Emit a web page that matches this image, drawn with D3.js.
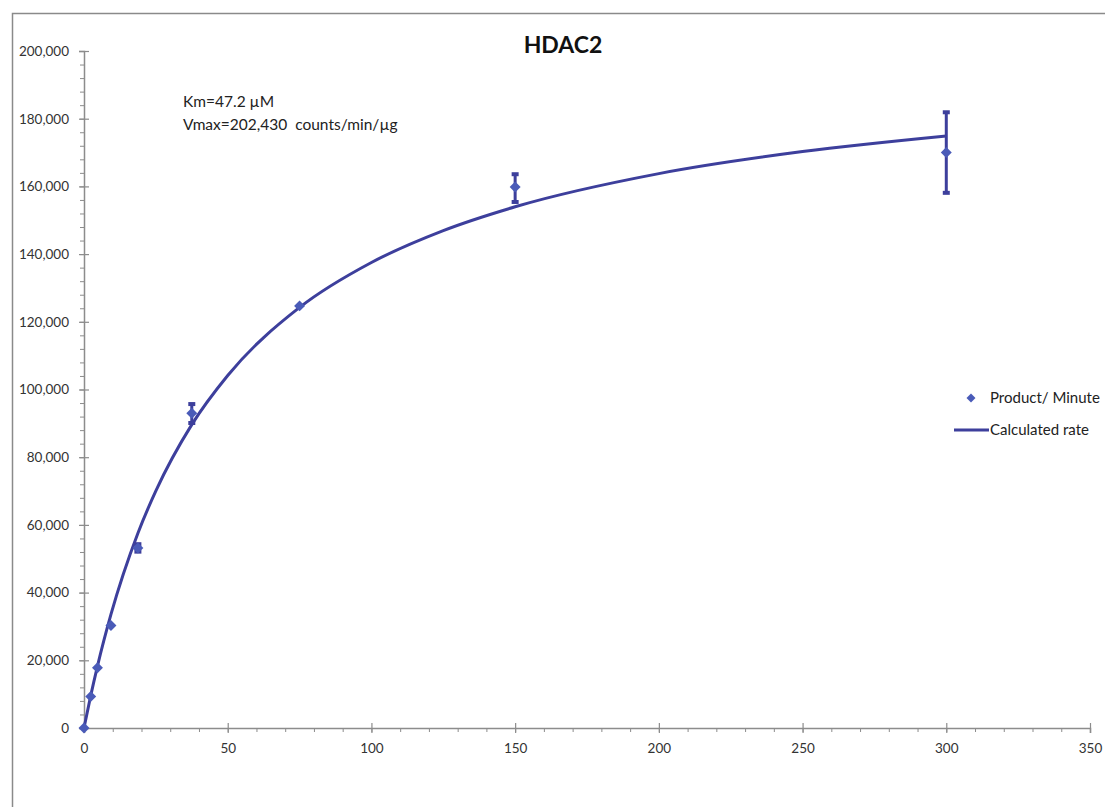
<!DOCTYPE html>
<html>
<head>
<meta charset="utf-8">
<script src="https://cdn.jsdelivr.net/npm/d3@7"></script>
<style>
  html, body { margin: 0; padding: 0; background: #fff; }
  svg { display: block; }
  text { font-family: Lato, "Open Sans", sans-serif; white-space: pre; }
</style>
</head>
<body>
<svg id="chart" width="1105" height="807"></svg>
<script>
// ---- data ----
const substrate = [0, 2.34, 4.69, 9.375, 18.75, 37.5, 75, 150, 300];
const productPerMinute = [0, 9300, 17800, 30300, 53200, 93000, 124700, 159800, 170000];
const errorLow  = [0, 8800, 17200, 29800, 52100, 90100, 124000, 155400, 158100];
const errorHigh = [0, 9800, 18400, 30800, 54300, 95700, 125400, 163600, 181900];
const curveX = [0, 2.34, 4.69, 9.375, 18.75, 25, 37.5, 50, 75, 100, 125, 150, 200, 250, 300];
const curveY = [0, 9561, 18296, 33545, 57552, 70045, 89624, 104132, 124241, 137520, 146946, 153978, 163778, 170281, 174911];
const xTicks = [0, 50, 100, 150, 200, 250, 300, 350];
const yTicks = [0, 20000, 40000, 60000, 80000, 100000, 120000, 140000, 160000, 180000, 200000];
const title = "HDAC2";
const annotation = ["Km=47.2 \u00b5M", "Vmax=202,430  counts/min/\u00b5g"];
const legendLabels = ["Product/ Minute", "Calculated rate"];

// ---- layout ----
const svg = d3.select("#chart");
const x = d3.scaleLinear().domain([0, 350]).range([84, 1090]);
const y = d3.scaleLinear().domain([0, 200000]).range([728, 51]);
const axisColor = "#8c8c8c";
const lineColor = "#3d3f9c";
const markColor = "#4a5bb8";

// frame
svg.append("path").attr("d", "M12.5,807 L12.5,13.5 L1105,13.5")
  .attr("fill", "none").attr("stroke", "#8a8a8a").attr("stroke-width", 1.5);

// minor ticks
const gMinorY = svg.append("g").attr("transform", `translate(${x(0)},0)`)
  .call(d3.axisLeft(y).tickValues(d3.range(0, 200001, 4000)).tickSize(4).tickFormat(""));
const gMinorX = svg.append("g").attr("transform", `translate(0,${y(0)})`)
  .call(d3.axisBottom(x).tickValues(d3.range(0, 351, 10)).tickSize(4).tickFormat(""));
[gMinorX, gMinorY].forEach(g => {
  g.select(".domain").remove();
  g.selectAll("line").attr("stroke", axisColor);
});

// major axes
const gy = svg.append("g").attr("transform", `translate(${x(0)},0)`)
  .call(d3.axisLeft(y).tickValues(yTicks).tickSize(5).tickPadding(10).tickFormat(d3.format(",")));
const gx = svg.append("g").attr("transform", `translate(0,${y(0)})`)
  .call(d3.axisBottom(x).tickValues(xTicks).tickSize(5).tickPadding(10).tickFormat(d3.format("d")));
[gx, gy].forEach(g => {
  g.select(".domain").attr("stroke", axisColor).attr("stroke-width", 1.5);
  g.selectAll(".tick line").attr("stroke", axisColor).attr("stroke-width", 1.2);
  g.selectAll(".tick text").attr("fill", "#333").style("font-size", "13.5px")
    .style("font-family", "Lato, 'Open Sans', sans-serif");
});
gy.selectAll(".tick line").attr("x1", 5);
gx.selectAll(".tick line").attr("y1", -5);

// curve
const line = d3.line().x((d, i) => x(curveX[i])).y(d => y(d)).curve(d3.curveMonotoneX);
svg.append("path").datum(curveY).attr("d", line)
  .attr("fill", "none").attr("stroke", lineColor).attr("stroke-width", 3);

// error bars
const eb = svg.append("g");
substrate.forEach((s, i) => {
  if (errorHigh[i] - errorLow[i] < 1500) return;
  const cx = x(s);
  eb.append("line").attr("x1", cx).attr("x2", cx).attr("y1", y(errorLow[i])).attr("y2", y(errorHigh[i]))
    .attr("stroke", lineColor).attr("stroke-width", 3);
  [errorLow[i], errorHigh[i]].forEach(v => {
    eb.append("line").attr("x1", cx - 3.5).attr("x2", cx + 3.5).attr("y1", y(v)).attr("y2", y(v))
      .attr("stroke", lineColor).attr("stroke-width", 4);
  });
});

// markers (square diamonds)
const diamond = d3.symbol().type(d3.symbolSquare).size(60);
svg.append("g").selectAll("path").data(productPerMinute).join("path")
  .attr("d", diamond)
  .attr("transform", (d, i) => `translate(${x(substrate[i])},${y(d)}) rotate(45)`)
  .attr("fill", markColor);

// title
svg.append("text").attr("x", 563).attr("y", 53).attr("text-anchor", "middle")
  .style("font-size", "23px").style("font-weight", "bold").attr("fill", "#111").text(title);

// annotation
annotation.forEach((t, i) => {
  svg.append("text").attr("x", 183).attr("y", 107 + i * 23)
    .style("font-size", "15.5px").attr("fill", "#222").text(t);
});

// legend
const lg = svg.append("g");
lg.append("path").attr("d", d3.symbol().type(d3.symbolSquare).size(40))
  .attr("transform", "translate(971,398) rotate(45)").attr("fill", markColor);
lg.append("text").attr("x", 990).attr("y", 403).style("font-size", "15px").attr("fill", "#222").text(legendLabels[0]);
lg.append("line").attr("x1", 954).attr("x2", 989).attr("y1", 430).attr("y2", 430)
  .attr("stroke", lineColor).attr("stroke-width", 3);
lg.append("text").attr("x", 990).attr("y", 435).style("font-size", "15px").attr("fill", "#222").text(legendLabels[1]);
</script>
</body>
</html>
